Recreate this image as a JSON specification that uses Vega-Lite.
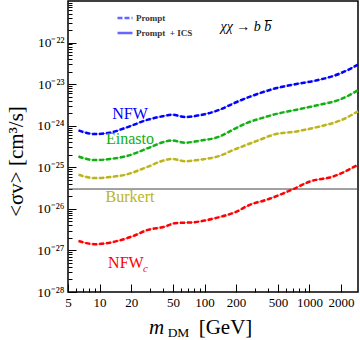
{
  "$schema": "https://vega.github.io/schema/vega-lite/v6.json",
  "width": 290,
  "height": 291,
  "autosize": "none",
  "padding": {"left": 68, "top": 1, "right": 2, "bottom": 48},
  "config": {
    "view": {"stroke": "black", "strokeWidth": 1.5},
    "font": "Liberation Serif",
    "axis": {"grid": false, "domain": false, "tickColor": "black"}
  },
  "datasets": {
    "curves": [
      {"p": "NFW", "m": 6.3, "sv": 7.71e-25}, {"p": "NFW", "m": 9, "sv": 6.31e-25}, {"p": "NFW", "m": 12.5, "sv": 6.78e-25}, {"p": "NFW", "m": 17.5, "sv": 8.81e-25}, {"p": "NFW", "m": 29, "sv": 1.40e-24}, {"p": "NFW", "m": 40, "sv": 1.69e-24}, {"p": "NFW", "m": 49, "sv": 1.84e-24}, {"p": "NFW", "m": 65, "sv": 1.62e-24}, {"p": "NFW", "m": 90, "sv": 1.79e-24}, {"p": "NFW", "m": 140, "sv": 2.43e-24}, {"p": "NFW", "m": 186, "sv": 3.39e-24}, {"p": "NFW", "m": 252, "sv": 4.65e-24}, {"p": "NFW", "m": 337, "sv": 6.07e-24}, {"p": "NFW", "m": 451, "sv": 7.66e-24}, {"p": "NFW", "m": 754, "sv": 1.01e-23}, {"p": "NFW", "m": 1256, "sv": 1.28e-23}, {"p": "NFW", "m": 1945, "sv": 1.79e-23}, {"p": "NFW", "m": 2900, "sv": 2.95e-23},
      {"p": "Einasto", "m": 6.3, "sv": 1.82e-25}, {"p": "Einasto", "m": 9, "sv": 1.49e-25}, {"p": "Einasto", "m": 12.5, "sv": 1.58e-25}, {"p": "Einasto", "m": 17.5, "sv": 1.82e-25}, {"p": "Einasto", "m": 29, "sv": 2.90e-25}, {"p": "Einasto", "m": 40, "sv": 4.00e-25}, {"p": "Einasto", "m": 49, "sv": 4.43e-25}, {"p": "Einasto", "m": 65, "sv": 3.90e-25}, {"p": "Einasto", "m": 90, "sv": 4.35e-25}, {"p": "Einasto", "m": 140, "sv": 5.52e-25}, {"p": "Einasto", "m": 186, "sv": 8.0e-25}, {"p": "Einasto", "m": 252, "sv": 1.16e-24}, {"p": "Einasto", "m": 337, "sv": 1.48e-24}, {"p": "Einasto", "m": 451, "sv": 1.84e-24}, {"p": "Einasto", "m": 754, "sv": 2.43e-24}, {"p": "Einasto", "m": 1256, "sv": 3.21e-24}, {"p": "Einasto", "m": 1945, "sv": 4.24e-24}, {"p": "Einasto", "m": 2900, "sv": 7.10e-24},
      {"p": "Burkert", "m": 6.3, "sv": 6.59e-26}, {"p": "Burkert", "m": 9, "sv": 5.50e-26}, {"p": "Burkert", "m": 12.5, "sv": 5.81e-26}, {"p": "Burkert", "m": 17.5, "sv": 6.59e-26}, {"p": "Burkert", "m": 29, "sv": 1.04e-25}, {"p": "Burkert", "m": 40, "sv": 1.44e-25}, {"p": "Burkert", "m": 49, "sv": 1.58e-25}, {"p": "Burkert", "m": 65, "sv": 1.40e-25}, {"p": "Burkert", "m": 90, "sv": 1.52e-25}, {"p": "Burkert", "m": 140, "sv": 1.89e-25}, {"p": "Burkert", "m": 186, "sv": 2.57e-25}, {"p": "Burkert", "m": 252, "sv": 3.48e-25}, {"p": "Burkert", "m": 337, "sv": 4.6e-25}, {"p": "Burkert", "m": 451, "sv": 6.07e-25}, {"p": "Burkert", "m": 754, "sv": 7.30e-25}, {"p": "Burkert", "m": 1256, "sv": 9.62e-25}, {"p": "Burkert", "m": 1945, "sv": 1.32e-24}, {"p": "Burkert", "m": 2900, "sv": 2.21e-24},
      {"p": "NFWc", "m": 6.3, "sv": 1.69e-27}, {"p": "NFWc", "m": 9, "sv": 1.41e-27}, {"p": "NFWc", "m": 14, "sv": 1.63e-27}, {"p": "NFWc", "m": 20.2, "sv": 2.15e-27}, {"p": "NFWc", "m": 29, "sv": 3.12e-27}, {"p": "NFWc", "m": 42, "sv": 3.74e-27}, {"p": "NFWc", "m": 52, "sv": 4.52e-27}, {"p": "NFWc", "m": 81, "sv": 4.79e-27}, {"p": "NFWc", "m": 126, "sv": 5.97e-27}, {"p": "NFWc", "m": 200, "sv": 8.47e-27}, {"p": "NFWc", "m": 270, "sv": 1.25e-26}, {"p": "NFWc", "m": 390, "sv": 1.65e-26}, {"p": "NFWc", "m": 550, "sv": 2.30e-26}, {"p": "NFWc", "m": 700, "sv": 2.99e-26}, {"p": "NFWc", "m": 1009, "sv": 4.55e-26}, {"p": "NFWc", "m": 1682, "sv": 6.00e-26}, {"p": "NFWc", "m": 2900, "sv": 1.15e-25}
    ],
    "labels": [
      {"label": "NFW", "m": 19.5, "sv": 1.45e-24, "p": "NFW"},
      {"label": "Einasto", "m": 19.5, "sv": 3.63e-25, "p": "Einasto"},
      {"label": "Burkert", "m": 19.5, "sv": 1.50e-26, "p": "Burkert"},
      {"label": "NFW", "m": 17.8, "sv": 3.78e-28, "p": "NFWc"}
    ]
  },
  "encoding": {
    "y": {
      "field": "sv",
      "type": "quantitative",
      "scale": {"type": "log", "domain": [1e-28, 1e-21]},
      "axis": {
        "values": [1e-28, 2e-28, 3e-28, 4e-28, 5e-28, 6e-28, 7e-28, 8e-28, 9e-28, 1e-27, 2e-27, 3e-27, 4e-27, 5e-27, 6e-27, 7e-27, 8e-27, 9e-27, 1e-26, 2e-26, 3e-26, 4e-26, 5e-26, 6e-26, 7e-26, 8e-26, 9e-26, 1e-25, 2e-25, 3e-25, 4e-25, 5e-25, 6e-25, 7e-25, 8e-25, 9e-25, 1e-24, 2e-24, 3e-24, 4e-24, 5e-24, 6e-24, 7e-24, 8e-24, 9e-24, 1e-23, 2e-23, 3e-23, 4e-23, 5e-23, 6e-23, 7e-23, 8e-23, 9e-23, 1e-22, 2e-22, 3e-22, 4e-22, 5e-22, 6e-22, 7e-22, 8e-22, 9e-22],
        "labelExpr": "abs(log(datum.value)/LN10 - round(log(datum.value)/LN10)) < 0.01 ? '10⁻²' + ['⁰','¹','²','³','⁴','⁵','⁶','⁷','⁸','⁹'][round(-log(datum.value)/LN10) - 20] : ''",
        "tickSize": {"condition": {"test": "abs(log(datum.value)/LN10 - round(log(datum.value)/LN10)) < 0.01", "value": -8}, "value": -4},
        "labelPadding": 12,
        "labelFontSize": 13.5,
        "labelColor": "black",
        "labelFont": "Liberation Serif",
        "title": "<σv> [cm³/s]",
        "titleFont": "Liberation Serif",
        "titleFontSize": 21,
        "titleFontWeight": "normal",
        "titleColor": "black",
        "titleX": -52,
        "titleY": 160,
        "titleAngle": -90,
        "titleAlign": "center",
        "titleBaseline": "middle"
      }
    }
  },
  "layer": [
    {
      "data": {"values": [{"sv": 3e-26}]},
      "mark": {"type": "rule", "color": "#444444", "strokeWidth": 1}
    },
    {
      "data": {"name": "curves"},
      "mark": {"type": "line", "strokeWidth": 1, "opacity": 0.6, "interpolate": "monotone"},
      "encoding": {
        "x": {
          "field": "m", "type": "quantitative",
          "scale": {"type": "log", "domain": [5, 2900]},
          "axis": {
            "orient": "bottom",
            "values": [5, 6, 7, 8, 9, 10, 20, 30, 40, 50, 60, 70, 80, 90, 100, 200, 300, 400, 500, 600, 700, 800, 900, 1000, 2000],
            "format": "d",
            "labelExpr": "indexof([5,10,20,50,100,200,500,1000,2000], datum.value) >= 0 ? datum.label : ''",
            "tickSize": {"condition": {"test": "indexof([5,10,20,50,100,200,500,1000,2000], datum.value) >= 0", "value": -8}, "value": -4},
            "labelPadding": 12,
            "labelFontSize": 13,
            "labelColor": "black",
            "labelFont": "Liberation Serif",
            "labelFlush": false,
            "labelOverlap": false,
            "title": "m",
            "titleFont": "Liberation Serif",
            "titleFontStyle": "italic",
            "titleFontWeight": "normal",
            "titleFontSize": 21,
            "titleColor": "black",
            "titleX": 88,
            "titleY": 41,
            "titleAlign": "center",
            "titleBaseline": "alphabetic"
          }
        },
        "color": {"field": "p", "type": "nominal", "scale": {"domain": ["NFW", "Einasto", "Burkert", "NFWc"], "range": ["#0000ff", "#10b010", "#bcb41c", "#ff0000"]}, "legend": null},
        "strokeDash": {
          "datum": "Prompt + ICS",
          "scale": {"domain": ["Prompt", "Prompt + ICS"], "range": [[5, 2], [1, 0]]},
          "legend": {
            "orient": "none", "legendX": 48, "legendY": 8, "title": null,
            "symbolType": "stroke", "symbolStrokeColor": "#0000ff", "symbolStrokeWidth": 2.5, "symbolSize": 225,
            "labelFont": "Liberation Serif", "labelFontSize": 9, "labelFontWeight": "bold", "labelColor": "#333333",
            "rowPadding": 1, "labelOffset": 2,
            "labelExpr": "datum.label == 'Prompt' ? '\u00a0\u00a0\u00a0\u00a0\u00a0\u00a0\u00a0\u00a0\u00a0Prompt' : 'Prompt\u00a0\u00a0+ ICS'"
          }
        }
      }
    },
    {
      "data": {"name": "curves"},
      "mark": {"type": "line", "strokeWidth": 2.5, "interpolate": "monotone"},
      "encoding": {
        "x": {"field": "m", "type": "quantitative", "scale": {"type": "log", "domain": [5, 2900]}, "axis": null},
        "color": {"field": "p", "type": "nominal", "scale": {"domain": ["NFW", "Einasto", "Burkert", "NFWc"], "range": ["#0000ff", "#10b010", "#bcb41c", "#ff0000"]}, "legend": null},
        "strokeDash": {"datum": "Prompt", "scale": {"domain": ["Prompt", "Prompt + ICS"], "range": [[5, 2], [1, 0]]}}
      }
    },
    {
      "data": {"name": "labels"},
      "mark": {"type": "text", "fontSize": 16, "align": "center", "baseline": "alphabetic", "font": "Liberation Serif"},
      "encoding": {
        "x": {
          "field": "m", "type": "quantitative", "scale": {"type": "log", "domain": [5, 2900]},
          "axis": {"orient": "bottom", "domain": false, "ticks": false, "labels": false, "title": "DM", "titleFont": "Liberation Serif", "titleFontSize": 13.5, "titleFontWeight": "normal", "titleColor": "black", "titleX": 110, "titleY": 44, "titleAlign": "center", "titleBaseline": "alphabetic"}
        },
        "text": {"field": "label"},
        "color": {"field": "p", "type": "nominal", "scale": {"domain": ["NFW", "Einasto", "Burkert", "NFWc"], "range": ["#0000ff", "#10b010", "#bcb41c", "#ff0000"]}, "legend": null}
      }
    },
    {
      "data": {"values": [{"t": "c", "m": 25.9, "sv": 3.11e-28, "p": "NFWc"}]},
      "mark": {"type": "text", "fontSize": 11, "fontStyle": "italic", "align": "left", "baseline": "alphabetic", "font": "Liberation Serif"},
      "encoding": {
        "x": {
          "field": "m", "type": "quantitative", "scale": {"type": "log", "domain": [5, 2900]},
          "axis": {"orient": "bottom", "domain": false, "ticks": false, "labels": false, "title": "[GeV]", "titleFont": "Liberation Serif", "titleFontSize": 21, "titleFontWeight": "normal", "titleColor": "black", "titleX": 157, "titleY": 41, "titleAlign": "center", "titleBaseline": "alphabetic"}
        },
        "text": {"field": "t"},
        "color": {"field": "p", "type": "nominal", "scale": {"domain": ["NFW", "Einasto", "Burkert", "NFWc"], "range": ["#0000ff", "#10b010", "#bcb41c", "#ff0000"]}, "legend": null}
      }
    },
    {
      "data": {"values": [{"t": "χχ → b b̅", "m": 248, "sv": 1.85e-22}]},
      "mark": {"type": "text", "fontSize": 14, "fontStyle": "italic", "align": "center", "baseline": "alphabetic", "font": "Liberation Serif", "color": "black"},
      "encoding": {
        "x": {"field": "m", "type": "quantitative", "scale": {"type": "log", "domain": [5, 2900]}, "axis": null},
        "text": {"field": "t"}
      }
    }
  ],
  "resolve": {"axis": {"x": "independent"}}
}
